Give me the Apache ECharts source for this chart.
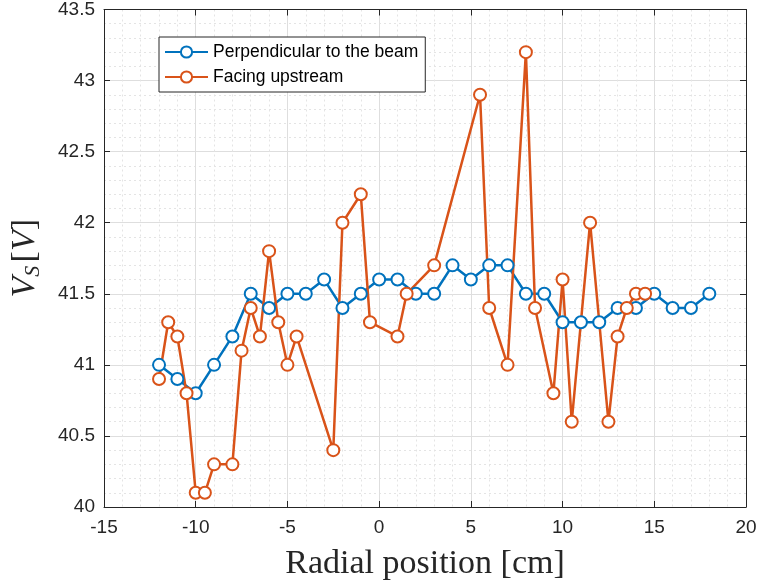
<!DOCTYPE html>
<html>
<head>
<meta charset="utf-8">
<script src="https://cdn.jsdelivr.net/npm/echarts@6/dist/echarts.min.js"></script>
<style>html,body{margin:0;padding:0;background:#fff;}#c{width:760px;height:586px;}</style>
</head>
<body>
<div id="c"></div>
<script>
var seriesNames = ['Perpendicular to the beam', 'Facing upstream'];
var perpX = [-12, -11, -10, -9, -8, -7, -6, -5, -4, -3, -2, -1, 0, 1, 2, 3, 4, 5, 6, 7, 8, 9, 10, 11, 12, 13, 14, 15, 16, 17, 18];
var perpY = [41.0, 40.9, 40.8, 41.0, 41.2, 41.5, 41.4, 41.5, 41.5, 41.6, 41.4, 41.5, 41.6, 41.6, 41.5, 41.5, 41.7, 41.6, 41.7, 41.7, 41.5, 41.5, 41.3, 41.3, 41.3, 41.4, 41.4, 41.5, 41.4, 41.4, 41.5];
var faceX = [-12, -11.5, -11, -10.5, -10, -9.5, -9, -8, -7.5, -7, -6.5, -6, -5.5, -5, -4.5, -2.5, -2, -1, -0.5, 1, 1.5, 3, 5.5, 6, 7, 8, 8.5, 9.5, 10, 10.5, 11.5, 12.5, 13, 13.5, 14, 14.5];
var faceY = [40.9, 41.3, 41.2, 40.8, 40.1, 40.1, 40.3, 40.3, 41.1, 41.4, 41.2, 41.8, 41.3, 41.0, 41.2, 40.4, 42.0, 42.2, 41.3, 41.2, 41.5, 41.7, 42.9, 41.4, 41.0, 43.2, 41.4, 40.8, 41.6, 40.6, 42.0, 40.6, 41.2, 41.4, 41.5, 41.5];
var xTicks = [-15, -10, -5, 0, 5, 10, 15, 20];
var yTicks = [40, 40.5, 41, 41.5, 42, 42.5, 43, 43.5];

function pairs(xs, ys) { return xs.map(function (x, i) { return [x, ys[i]]; }); }

var axisColor = '#262626';
var chart = echarts.init(document.getElementById('c'), null, {renderer: 'canvas'});

function xAxisCfg(pos, showLabel) {
  return {
    type: 'value', position: pos, min: xTicks[0], max: xTicks[xTicks.length - 1], interval: 5,
    axisLine: {show: true, onZero: false, lineStyle: {color: axisColor, width: 1}},
    axisTick: {show: true, inside: true, length: 6, lineStyle: {color: axisColor}},
    minorTick: {show: false, splitNumber: 5},
    axisLabel: {show: showLabel, color: axisColor, fontSize: 19, fontFamily: 'Liberation Sans', margin: 11,
      formatter: function (v) { return String(v); }},
    splitLine: {show: showLabel, lineStyle: {color: '#dedede', width: 1}},
    minorSplitLine: {show: showLabel, lineStyle: {color: '#e4e4e4', width: 1, type: [2, 3]}},
    name: showLabel ? 'Radial position [cm]' : '',
    nameLocation: 'middle', nameGap: 40,
    nameTextStyle: {fontFamily: 'Liberation Serif', fontSize: 34, color: axisColor}
  };
}
function yAxisCfg(pos, showLabel) {
  return {
    type: 'value', position: pos, min: yTicks[0], max: yTicks[yTicks.length - 1], interval: 0.5,
    axisLine: {show: true, onZero: false, lineStyle: {color: axisColor, width: 1}},
    axisTick: {show: true, inside: true, length: 6, lineStyle: {color: axisColor}},
    minorTick: {show: false, splitNumber: 5},
    axisLabel: {show: showLabel, color: axisColor, fontSize: 19, fontFamily: 'Liberation Sans', margin: 9,
      formatter: function (v) { return String(v); }},
    splitLine: {show: showLabel, lineStyle: {color: '#dedede', width: 1}},
    minorSplitLine: {show: showLabel, lineStyle: {color: '#e4e4e4', width: 1, type: [2, 3]}},
    name: showLabel ? '{i|V}{sub|S} {n|[}{i|V}{n|]}' : '',
    nameLocation: 'middle', nameGap: 60, nameRotate: 90,
    nameTextStyle: {
      color: axisColor,
      rich: {
        i: {fontFamily: 'Liberation Serif', fontStyle: 'italic', fontSize: 34, color: axisColor},
        n: {fontFamily: 'Liberation Serif', fontSize: 34, color: axisColor},
        sub: {fontFamily: 'Liberation Serif', fontStyle: 'italic', fontSize: 22, color: axisColor, verticalAlign: 'bottom', padding: [16, 0, 0, 0]}
      }
    }
  };
}

chart.setOption({
  animation: false,
  backgroundColor: '#ffffff',
  grid: {left: 103, right: 14, top: 7, bottom: 77, containLabel: false},
  legend: {
    left: 159, top: 37, orient: 'vertical',
    data: seriesNames,
    backgroundColor: '#ffffff', borderColor: axisColor, borderWidth: 1,
    padding: [5, 7, 5, 5], itemGap: 5, itemWidth: 43, itemHeight: 14,
    textStyle: {fontFamily: 'Liberation Sans', fontSize: 17.5, lineHeight: 20, color: '#000'}
  },
  xAxis: [xAxisCfg('bottom', true), xAxisCfg('top', false)],
  yAxis: [yAxisCfg('left', true), yAxisCfg('right', false)],
  series: [
    {
      name: seriesNames[0], type: 'line', xAxisIndex: 0, yAxisIndex: 0,
      data: pairs(perpX, perpY),
      symbol: 'emptyCircle', symbolSize: 12,
      lineStyle: {color: '#0072BD', width: 2.5},
      itemStyle: {color: '#0072BD', borderColor: '#0072BD', borderWidth: 2},
      emphasis: {disabled: true}
    },
    {
      name: seriesNames[1], type: 'line', xAxisIndex: 0, yAxisIndex: 0,
      data: pairs(faceX, faceY),
      symbol: 'emptyCircle', symbolSize: 12,
      lineStyle: {color: '#D95319', width: 2.5},
      itemStyle: {color: '#D95319', borderColor: '#D95319', borderWidth: 2},
      emphasis: {disabled: true}
    }
  ]
});
</script>
</body>
</html>
